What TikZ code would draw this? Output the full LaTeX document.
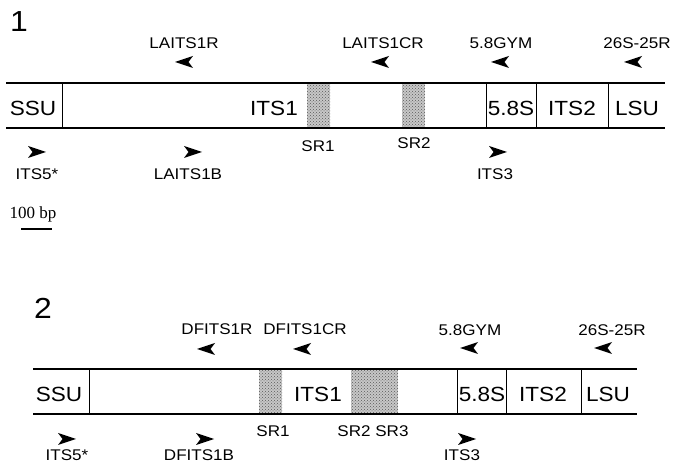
\documentclass[tikz,border=0pt]{standalone}
\usepackage{fontspec}
\setmainfont[FakeStretch=1.1]{Liberation Sans}
\newfontfamily\scalefont{Liberation Serif}
\usetikzlibrary{patterns}
\tikzset{
  primerlab/.style={font=\fontsize{15.5}{16}\selectfont,inner sep=0pt},
  regionlab/.style={font=\fontsize{20.5}{21}\selectfont,inner sep=0pt},
  paneltag/.style={font=\fontsize{29}{30}\selectfont,inner sep=0pt},
  srbox/.style={preaction={fill=black!22},pattern=crosshatch dots,pattern color=black!65},
  strand/.style={line width=1.2pt},
  divider/.style={line width=0.9pt},
  % primer heads, forward and reverse
  fwdhead/.pic={\fill (9,0) -- (-9,-6) -- (-4.5,0) -- (-9,6) -- cycle;},
  revhead/.pic={\fill (-9,0) -- (9,-6) -- (4.5,0) -- (9,6) -- cycle;},
}

\begin{document}
\begin{tikzpicture}[x=1pt,y=-1pt]
  \useasboundingbox (0,0) rectangle (673,465);

  % ---- Panel 1 ----
  \node[paneltag] (tagA) at (19,22) {1};
  % repeat regions
  \fill[srbox] (307,83) rectangle (330,128);
  \fill[srbox] (402,83) rectangle (425,128);
  % strands
  \draw[strand] (6,83) -- (665,83);
  \draw[strand] (6,128) -- (665,128);
  \foreach \xd in {62,486,536,608}
    \draw[divider] (\xd,83) -- (\xd,128);
  % regions
  \node[regionlab] (ssuA) at (33,108) {SSU};
  \node[regionlab] (itsoneA) at (274,108) {ITS1};
  \node[regionlab] (fiveA) at (511,108) {5.8S};
  \node[regionlab] (itstwoA) at (572,108) {ITS2};
  \node[regionlab] (lsuA) at (637,108) {LSU};
  \node[primerlab] (srA1) at (318,146) {SR1};
  \node[primerlab] (srA2) at (414,143) {SR2};
  % reverse primers
  \node[primerlab] (pA1) at (184,43) {LAITS1R};
  \pic (hA1) at (184,62) {revhead};
  \node[primerlab] (pA2) at (383,43) {LAITS1CR};
  \pic (hA2) at (380,62) {revhead};
  \node[primerlab] (pA3) at (501,43) {5.8GYM};
  \pic (hA3) at (500,62) {revhead};
  \node[primerlab] (pA4) at (637,43) {26S-25R};
  \pic (hA4) at (633,62) {revhead};
  % forward primers
  \pic (hA5) at (37,152) {fwdhead};
  \node[primerlab] (pA5) at (37,174) {ITS5*};
  \pic (hA6) at (193,152) {fwdhead};
  \node[primerlab] (pA6) at (188,174) {LAITS1B};
  \pic (hA7) at (498,152) {fwdhead};
  \node[primerlab] (pA7) at (495,174) {ITS3};
  % scale
  \node[font=\scalefont\fontsize{17}{18}\selectfont,inner sep=0pt] (scale) at (33,214) {100 bp};
  \draw[line width=1.5pt] (21,229) -- (52,229);

  % ---- Panel 2 ----
  \node[paneltag] (tagB) at (43,308) {2};
  \fill[srbox] (259,369) rectangle (282,414);
  \fill[srbox] (351,369) rectangle (398,414);
  \draw[strand] (33,369) -- (637,369);
  \draw[strand] (33,414) -- (637,414);
  \foreach \xd in {89,457,506,581}
    \draw[divider] (\xd,369) -- (\xd,414);
  \node[regionlab] (ssuB) at (59,394) {SSU};
  \node[regionlab] (itsoneB) at (318,394) {ITS1};
  \node[regionlab] (fiveB) at (482,394) {5.8S};
  \node[regionlab] (itstwoB) at (543,394) {ITS2};
  \node[regionlab] (lsuB) at (608,394) {LSU};
  \node[primerlab] (srB1) at (273,431) {SR1};
  \node[primerlab] (srB2) at (373,431) {SR2 SR3};
  \node[primerlab] (pB1) at (217,329) {DFITS1R};
  \pic (hB1) at (206,349) {revhead};
  \node[primerlab] (pB2) at (305,329) {DFITS1CR};
  \pic (hB2) at (302,349) {revhead};
  \node[primerlab] (pB3) at (470,330) {5.8GYM};
  \pic (hB3) at (469,348) {revhead};
  \node[primerlab] (pB4) at (612,330) {26S-25R};
  \pic (hB4) at (603,348) {revhead};
  \pic (hB5) at (67,439) {fwdhead};
  \node[primerlab] (pB5) at (67,455.5) {ITS5*};
  \pic (hB6) at (205,439) {fwdhead};
  \node[primerlab] (pB6) at (199,455.5) {DFITS1B};
  \pic (hB7) at (467,439) {fwdhead};
  \node[primerlab] (pB7) at (462,455.5) {ITS3};
\end{tikzpicture}
\end{document}
